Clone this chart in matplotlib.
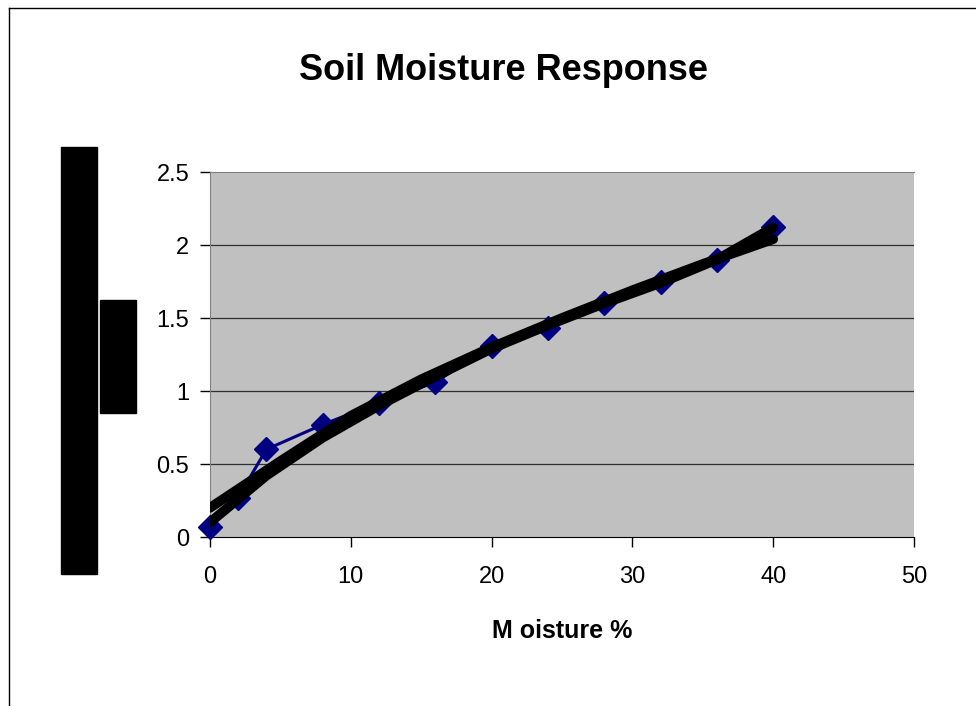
import matplotlib.pyplot as plt
from matplotlib.patches import Rectangle
from matplotlib.lines import Line2D

plt.rcParams['font.family'] = ['Liberation Sans', 'DejaVu Sans']

# measured points
moisture = [0, 2, 4, 8, 12, 16, 20, 24, 28, 32, 36, 40]
response = [0.07, 0.27, 0.60, 0.77, 0.92, 1.06, 1.31, 1.43, 1.60, 1.75, 1.90, 2.12]

# trend lines
trend_a_x = [0, 5, 10, 15, 20, 25, 30, 35, 40]
trend_a_y = [0.20, 0.52, 0.83, 1.08, 1.30, 1.50, 1.69, 1.87, 2.04]
trend_b_x = [0, 4, 8, 12, 16, 20, 24, 28, 32, 36, 40]
trend_b_y = [0.10, 0.42, 0.68, 0.90, 1.10, 1.29, 1.45, 1.60, 1.74, 1.90, 2.12]

xticks = [0, 10, 20, 30, 40, 50]
yticks = [0, 0.5, 1, 1.5, 2, 2.5]
ytick_labels = ['0', '0.5', '1', '1.5', '2', '2.5']

W, H = 976, 706
fig = plt.figure(figsize=(W / 100, H / 100), dpi=100)
ax = fig.add_axes([210 / W, 1 - 537 / H, 704 / W, 365 / H])
ax.set_facecolor('#C0C0C0')

for y in yticks[1:-1]:
    ax.axhline(y, color='#303030', lw=0.9, zorder=1)

ax.plot(moisture, response, color='#000080', lw=2.2, marker='D', ms=12,
        mfc='#000080', mec='#000080', zorder=3, clip_on=False)
ax.plot(trend_a_x, trend_a_y, color='black', lw=7, solid_capstyle='round', zorder=4)
ax.plot(trend_b_x, trend_b_y, color='black', lw=7, solid_capstyle='round', zorder=4)

ax.set_xlim(0, 50)
ax.set_ylim(0, 2.5)
ax.set_xticks(xticks)
ax.set_xticklabels([str(t) for t in xticks])
ax.set_yticks(yticks)
ax.set_yticklabels(ytick_labels)
ax.tick_params(direction='out', length=7, width=1, labelsize=17, colors='black')
ax.tick_params(axis='x', pad=14)
ax.tick_params(axis='y', pad=8)

for s in ['top', 'left']:
    ax.spines[s].set_color('#808080')
ax.spines['right'].set_visible(False)
ax.spines['bottom'].set_color('black')

ax.set_xlabel('M oisture %', fontsize=18, fontweight='bold', labelpad=22)
fig.text(503 / W, 1 - 70 / H, 'Soil Moisture Response', ha='center', va='center',
         fontsize=26, fontweight='bold')

# redacted y-axis label blocks
fig.add_artist(Rectangle((61 / W, 1 - 574 / H), 36 / W, 427 / H,
                         transform=fig.transFigure, color='black'))
fig.add_artist(Rectangle((100 / W, 1 - 413 / H), 36 / W, 113 / H,
                         transform=fig.transFigure, color='black'))

# outer chart frame
fig.add_artist(Line2D([9 / W, 1], [1 - 8 / H, 1 - 8 / H], color='black', lw=1))
fig.add_artist(Line2D([9 / W, 9 / W], [0, 1 - 8 / H], color='black', lw=1))

fig.savefig('out.png', dpi=100)
